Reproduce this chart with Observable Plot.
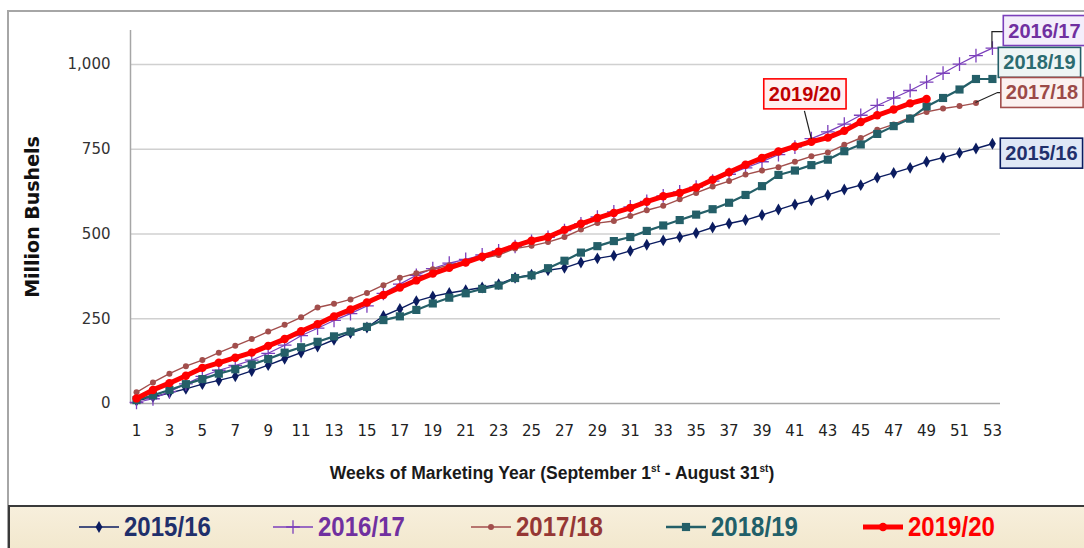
<!DOCTYPE html>
<html><head><meta charset="utf-8">
<script src="https://cdn.jsdelivr.net/npm/d3@7"></script>
<script src="https://cdn.jsdelivr.net/npm/@observablehq/plot@0.6"></script>
<style>
html,body{margin:0;padding:0;background:#fff;}
body{width:1084px;height:548px;overflow:hidden;position:relative;font-family:"DejaVu Sans",sans-serif;}
#frame{position:absolute;left:7px;top:10px;width:1200px;height:700px;border-left:2px solid #a6a6a6;border-top:2px solid #a6a6a6;box-sizing:border-box;}
#chart{position:absolute;left:0;top:0;}
#xlabel{position:absolute;left:0;width:1104px;top:463px;text-align:center;font:bold 17.5px "Liberation Sans",sans-serif;color:#1a1a1a;}
#xlabel sup{font-size:10px;vertical-align:7px;line-height:0;}
#legend{position:absolute;left:8px;top:505px;width:1100px;height:70px;border:2px solid #3a3a3a;background:linear-gradient(#f7efdc,#efe3c4);}
.item{position:absolute;top:0;height:40px;display:flex;align-items:center;}
.item span{display:inline-block;font:bold 27px "Liberation Sans",sans-serif;margin-left:4px;transform:scaleX(0.89);transform-origin:left center;}
</style></head>
<body>
<div id="frame"></div>
<div id="chart"></div>
<div id="xlabel">Weeks of Marketing Year (September 1<sup>st</sup> - August 31<sup>st</sup>)</div>
<div id="legend"></div>
<script>
const weeks = [1,2,3,4,5,6,7,8,9,10,11,12,13,14,15,16,17,18,19,20,21,22,23,24,25,26,27,28,29,30,31,32,33,34,35,36,37,38,39,40,41,42,43,44,45,46,47,48,49,50,51,52,53];
const xTicks = [1,3,5,7,9,11,13,15,17,19,21,23,25,27,29,31,33,35,37,39,41,43,45,47,49,51,53];
const yTicks = [0,250,500,750,1000];
const seriesNames = ["2015/16","2016/17","2017/18","2018/19","2019/20"];
const v1516 = [8,19,31,43,57,68,80,96,113,132,150,168,188,208,224,258,279,302,316,326,334,342,352,371,380,393,400,416,428,436,450,468,481,491,503,519,531,541,556,572,587,599,615,631,644,666,680,695,713,725,739,752,766];
const v1617 = [3,14,35,58,80,98,112,128,148,172,200,222,245,265,288,325,352,378,398,414,425,438,450,463,478,490,510,530,550,565,580,596,612,624,638,656,676,695,713,734,756,781,801,824,850,879,901,923,948,974,1001,1026,1048];
const v1718 = [33,62,88,110,128,150,170,190,212,232,254,283,294,307,326,349,371,384,396,408,418,428,438,457,465,476,491,513,532,538,553,570,583,602,621,640,656,675,687,697,713,729,740,763,783,807,823,844,860,870,877,886];
const v1819 = [10,24,40,57,72,88,101,115,131,150,166,182,198,212,226,246,257,276,295,312,325,338,348,370,378,399,421,445,464,479,491,509,525,541,557,573,592,615,641,674,687,703,719,744,764,795,818,840,876,901,926,957,957];
const v1920 = [15,40,60,82,105,120,135,150,170,190,213,234,257,277,298,320,342,363,383,400,416,433,448,465,480,491,512,530,547,562,577,595,611,621,637,660,682,704,724,743,758,772,784,804,830,850,867,885,898];

const series = [
  {name:seriesNames[0], values:v1516, color:"#0b1c60", symbol:"diamond", r:3.6, sw:1.4, filled:true, text:"#1f2f6b", boxFill:"#dfe7f6", legendColor:"#1f2f6b"},
  {name:seriesNames[1], values:v1617, color:"#7b3fbb", symbol:"plus", r:4.5, sw:1.2, filled:false, text:"#7030a0", boxFill:"#f4eefb", legendColor:"#7030a0"},
  {name:seriesNames[2], values:v1718, color:"#a24e4c", symbol:"circle", r:3, sw:1.4, filled:true, text:"#9b4a48", boxFill:"#fbf1f0", legendColor:"#953735"},
  {name:seriesNames[3], values:v1819, color:"#245f68", symbol:"square", r:4.6, sw:2.2, filled:true, text:"#2b6b70", boxFill:"#eef5f5", legendColor:"#215f69"},
  {name:seriesNames[4], values:v1920, color:"#ff0000", symbol:"circle", r:4.2, sw:5, filled:true, text:"#c00000", boxFill:"#fff0f0", legendColor:"#ff0000"}
];
const rowsOf = s => s.values.map((v,i)=>({series:s.name, week:weeks[i], value:v}));

// label annotations: anchor week in the series, pixel offsets of label centre
const labels = [
  {name:"2016/17", week:53, dx:52, dy:-17, leader:[[0,0],[0,-16],[11,-16]]},
  {name:"2018/19", week:53, dx:47, dy:-16, leader:null},
  {name:"2017/18", week:52, dx:66, dy:-10, leader:[[0,0],[22,-10],[26,-10]]},
  {name:"2015/16", week:53, dx:49, dy:10, leader:null},
  {name:"2019/20", week:41, dx:10, dy:-52, leader:[[17,-7],[10,-35]]}
];
const labelRows = labels.map(l => {
  const s = series.find(d=>d.name===l.name);
  return {...l, value: s.values[weeks.indexOf(l.week)], color:s.text, fill:s.boxFill, border:s.color};
});

const marks = [
  Plot.ruleY(yTicks.filter(d=>d>0), {stroke:"#d0d0d0", strokeWidth:1.5}),
  Plot.ruleY([0], {stroke:"#a6a6a6", strokeWidth:1.5}),
  Plot.ruleX([0.635], {stroke:"#a6a6a6", strokeWidth:1.5}),
  Plot.axisY({ticks:yTicks, tickSize:0, tickPadding:20, tickFormat:d3.format(","), fontSize:15, fill:"#333", label:null}),
  Plot.axisX({ticks:xTicks, tickSize:0, tickPadding:22, fontSize:15, fill:"#222", label:null}),
  Plot.text(["Million Bushels"], {frameAnchor:"left", rotate:-90, dx:-98, textAnchor:"middle", fontWeight:"bold", fontSize:19, fill:"#111", fontFamily:"DejaVu Sans, sans-serif"})
];
for (const s of series) {
  const rows = rowsOf(s);
  marks.push(Plot.line(rows, {x:"week", y:"value", stroke:s.color, strokeWidth:s.sw, strokeLinejoin:"round", strokeLinecap:"round"}));
  marks.push(Plot.dot(rows, s.filled
    ? {x:"week", y:"value", symbol:s.symbol, r:s.r, fill:s.color, stroke:"none"}
    : {x:"week", y:"value", symbol:s.symbol, r:s.r, stroke:s.color, fill:"none", strokeWidth:1.3}));
}
for (const l of labelRows) {
  marks.push(Plot.text([l], {x:"week", y:"value", text:"name", dx:l.dx, dy:l.dy, fill:l.color, fontWeight:"bold", fontSize:20, fontFamily:"Liberation Sans, sans-serif"}));
}

const chart = Plot.plot({
  width:1084, height:450,
  marginTop:30, marginRight:84, marginBottom:47, marginLeft:130,
  x:{type:"linear", domain:[0.635, 53.49], axis:null},
  y:{domain:[0,1100], axis:null},
  style:{background:"transparent", fontFamily:"DejaVu Sans, sans-serif", overflow:"visible"},
  marks
});
document.getElementById("chart").appendChild(chart);

// boxes and leader lines, positioned through the plot's own scales
const sxs = chart.scale("x"), sys = chart.scale("y");
const X = sxs.apply ? v=>sxs.apply(v) : d3.scaleLinear(sxs.domain, sxs.range);
const Y = sys.apply ? v=>sys.apply(v) : d3.scaleLinear(sys.domain, sys.range);
const svg = d3.select(chart);
const allText = svg.selectAll("text").nodes();
labelRows.forEach(l => {
  const t = allText.find(n => n.textContent === l.name);
  if (!t) return;
  const g = t.parentNode;
  const px = X(l.week), py = Y(l.value);
  if (l.leader) {
    const line = d3.line()(l.leader.map(([ox,oy])=>[px+ox, py+oy]));
    g.parentNode.insertBefore(d3.create("svg:path").attr("d", line).attr("fill","none").attr("stroke","#222").attr("stroke-width",1.2).node(), g);
  }
  const b = t.getBBox();
  const rect = d3.create("svg:rect")
    .attr("x", b.x-5).attr("y", b.y-4).attr("width", b.width+10).attr("height", b.height+8)
    .attr("fill", l.fill).attr("stroke", l.border).attr("stroke-width", 1.6);
  if (t.getAttribute("transform")) rect.attr("transform", t.getAttribute("transform"));
  g.insertBefore(rect.node(), t);
});

// legend
const legendX = [78, 272, 470, 665, 862];
const leg = d3.select("#legend");
series.forEach((s,i) => {
  const it = leg.append("div").attr("class","item").style("left", (legendX[i]-10)+"px");
  const sw = it.append("svg").attr("width",42).attr("height",20);
  sw.append("line").attr("x1",1).attr("x2",41).attr("y1",10).attr("y2",10).attr("stroke",s.color).attr("stroke-width", i===4?5:(i===3?2.5:1.6));
  const sym = {diamond:d3.symbolDiamond, plus:d3.symbolPlus, circle:d3.symbolCircle, square:d3.symbolSquare}[s.symbol];
  const p = sw.append("path").attr("transform","translate(21,10)").attr("d", d3.symbol(sym, Math.PI*s.r*s.r)());
  if (s.filled) p.attr("fill", s.color); else p.attr("fill","none").attr("stroke",s.color).attr("stroke-width",1.3);
  it.append("span").text(s.name).style("color", s.legendColor);
});
</script>
</body></html>
